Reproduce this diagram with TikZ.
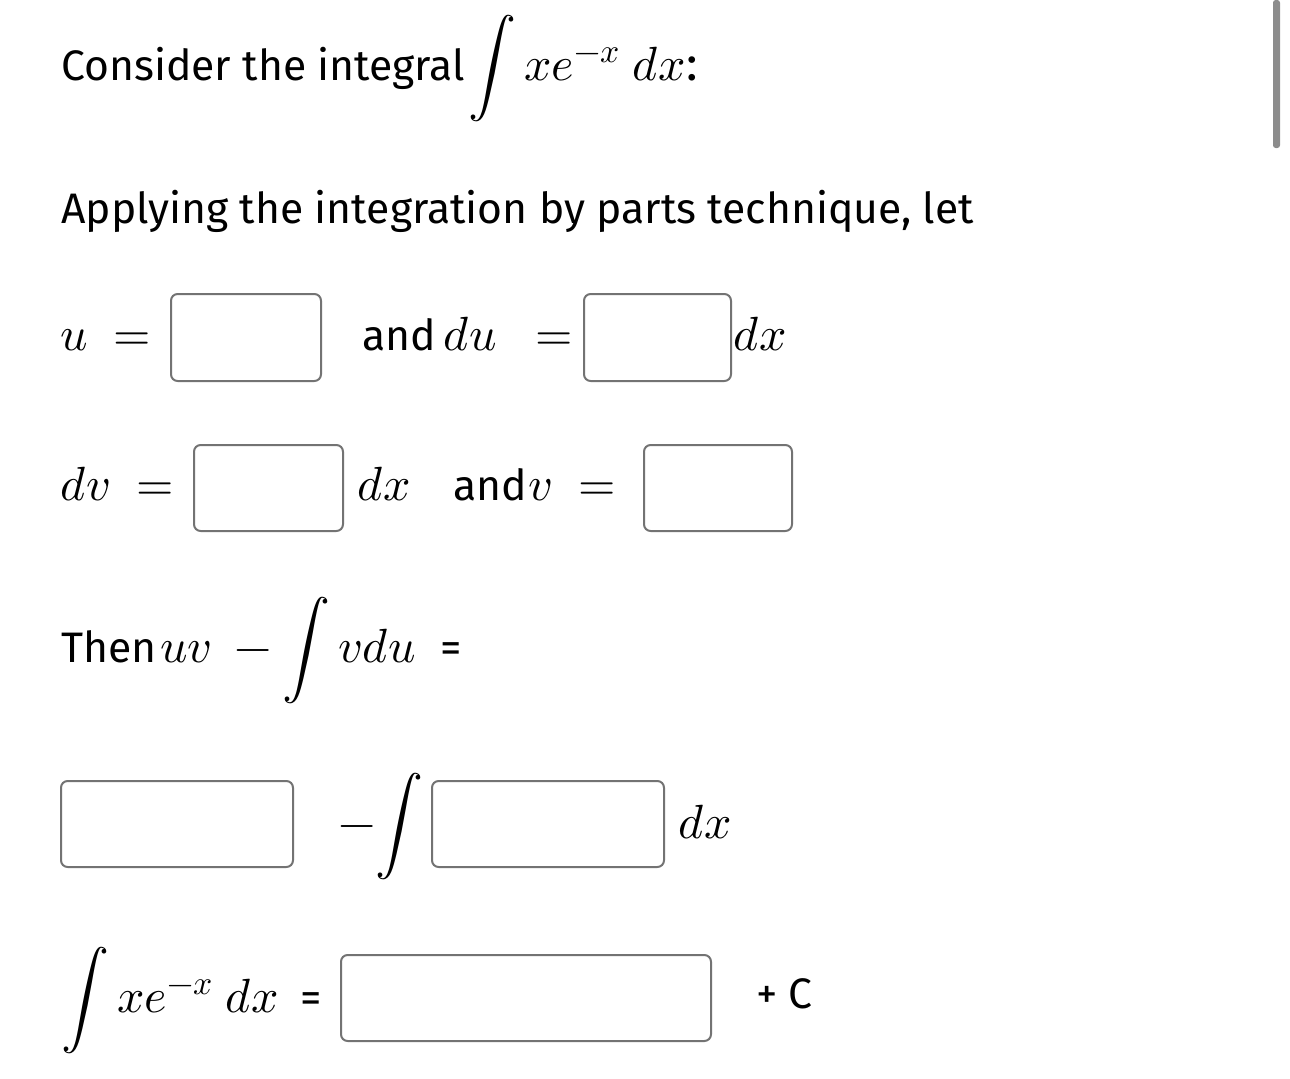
\documentclass[tikz,border=0pt]{standalone}
\usepackage{fontspec}
\usepackage{unicode-math}
\setmathfont{Latin Modern Math}
\setmainfont{Fira Sans}
\begin{document}
\begin{tikzpicture}[x=0.75pt,y=-0.75pt,
  ansbox/.style={draw=black!55,line width=1.5pt,rounded corners=5pt},
  txt/.style={anchor=base west,inner sep=0pt,font=\fontsize{32}{38}\selectfont},
  mth/.style={anchor=base west,inner sep=0pt,font=\fontsize{36}{42}\selectfont}]
\useasboundingbox (0,0) rectangle (1290,1079);
\fill[black!45,rounded corners=2pt] (1273,0) rectangle (1280,148);
\node[txt] (t1) at (61,80) {Consider the integral};
\node[mth] (m1) at (468,80) {$\displaystyle\int xe^{-x}\ dx$:};
\node[txt] (t2) at (61,223) {Applying the integration by parts technique, let};
\node[mth] (m2) at (60,350) {$u\ =$};
\draw[ansbox] (171,294) rectangle (321,381);
\node[txt] (t4) at (362,350) {and};
\node[mth] (m3) at (443,350) {$du\ \ =$};
\draw[ansbox] (584,294) rectangle (731,381);
\node[mth] (t5) at (733,350) {$dx$};
\node[mth] (m4) at (60,500) {$dv\ =$};
\draw[ansbox] (194,445) rectangle (343,531);
\node[mth] (m5) at (357,500) {$dx$};
\node[txt] (t7) at (453,500) {and};
\node[mth] (m6) at (528,500) {$v\ =$};
\draw[ansbox] (644,445) rectangle (792,531);
\node[txt] (t8) at (61,662) {Then};
\node[mth] (m7) at (160,662) {$uv\ -\displaystyle\int vdu$};
\node[txt] (t8b) at (440,662) {=};
\draw[ansbox] (61,781) rectangle (293,867);
\node[mth] (t9) at (338,838) {$-\displaystyle\!\int$};
\draw[ansbox] (432,781) rectangle (664,867);
\node[mth] (t10) at (678,838) {$dx$};
\node[mth] (t11) at (61,1012) {$\displaystyle\int xe^{-x}\ dx$};
\node[txt] (t11b) at (300,1012) {=};
\draw[ansbox] (341,955) rectangle (711,1041);
\node[txt] (t12) at (756,1008) {+ C};
\end{tikzpicture}
\end{document}
